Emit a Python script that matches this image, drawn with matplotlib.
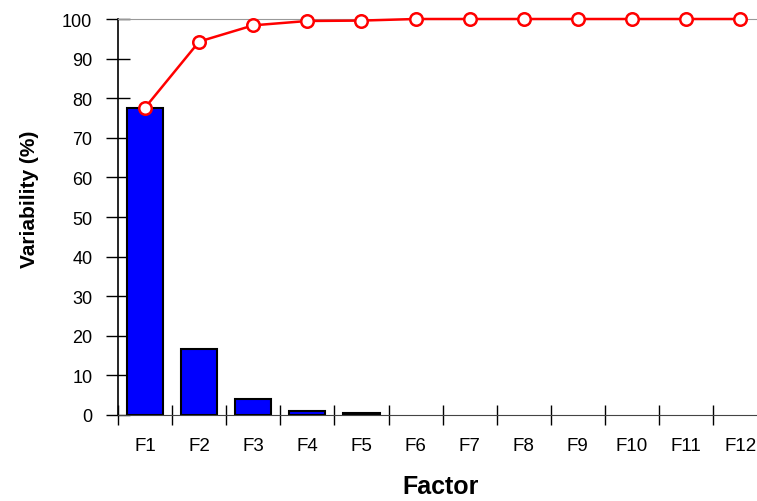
import matplotlib.pyplot as plt
import numpy as np

# Scree plot values
factors = ['F1', 'F2', 'F3', 'F4', 'F5', 'F6', 'F7', 'F8', 'F9', 'F10', 'F11', 'F12']
variability = [77.6, 16.7, 4.1, 1.1, 0.4, 0.0, 0.0, 0.0, 0.0, 0.0, 0.0, 0.0]
cumulative = [77.6, 94.3, 98.4, 99.5, 99.6, 100, 100, 100, 100, 100, 100, 100]

plt.rcParams['font.family'] = ['Liberation Sans', 'DejaVu Sans']

fig = plt.figure(figsize=(7.57, 5.02), dpi=100)
ax = fig.add_axes([118/757, 1 - 416/502, 12*54.1/757, 396/502])

x = np.arange(len(factors))
vals = np.array(variability)
shown = vals > 0  # zero bars are not drawn in the original
ax.bar(x[shown], vals[shown], width=0.67, color='#0000ff', edgecolor='black', linewidth=1.5, zorder=2)
ax.plot(x, cumulative, color='red', linewidth=1.8, marker='o', markersize=9,
        markerfacecolor='white', markeredgecolor='red', markeredgewidth=1.8, zorder=3, clip_on=False)

ax.set_xlim(-0.5, 11.5)
ax.set_ylim(0, 100)
ax.set_yticks(range(0, 101, 10))
ax.set_xticks(x)
ax.set_xticklabels(factors)
ax.set_xticks(np.arange(-0.5, 11.5, 1), minor=True)
ax.tick_params(axis='x', which='major', length=0, pad=16, labelsize=13.5)
ax.tick_params(axis='x', which='minor', direction='inout', length=14, width=1)
ax.tick_params(axis='y', direction='inout', length=17, width=1, pad=10, labelsize=13)

ax.spines['right'].set_visible(False)
ax.spines['top'].set_color('#999999')
ax.spines['left'].set_linewidth(1.2)
ax.spines['bottom'].set_color('#444444')

ax.set_xlabel('Factor', fontsize=18, fontweight='bold')
ax.xaxis.set_label_coords(322/649, -59/396)
ax.set_ylabel('Variability (%)', fontsize=15, fontweight='bold')
ax.yaxis.set_label_coords(-79/649, 0.548)

fig.savefig('out.png', dpi=100)
